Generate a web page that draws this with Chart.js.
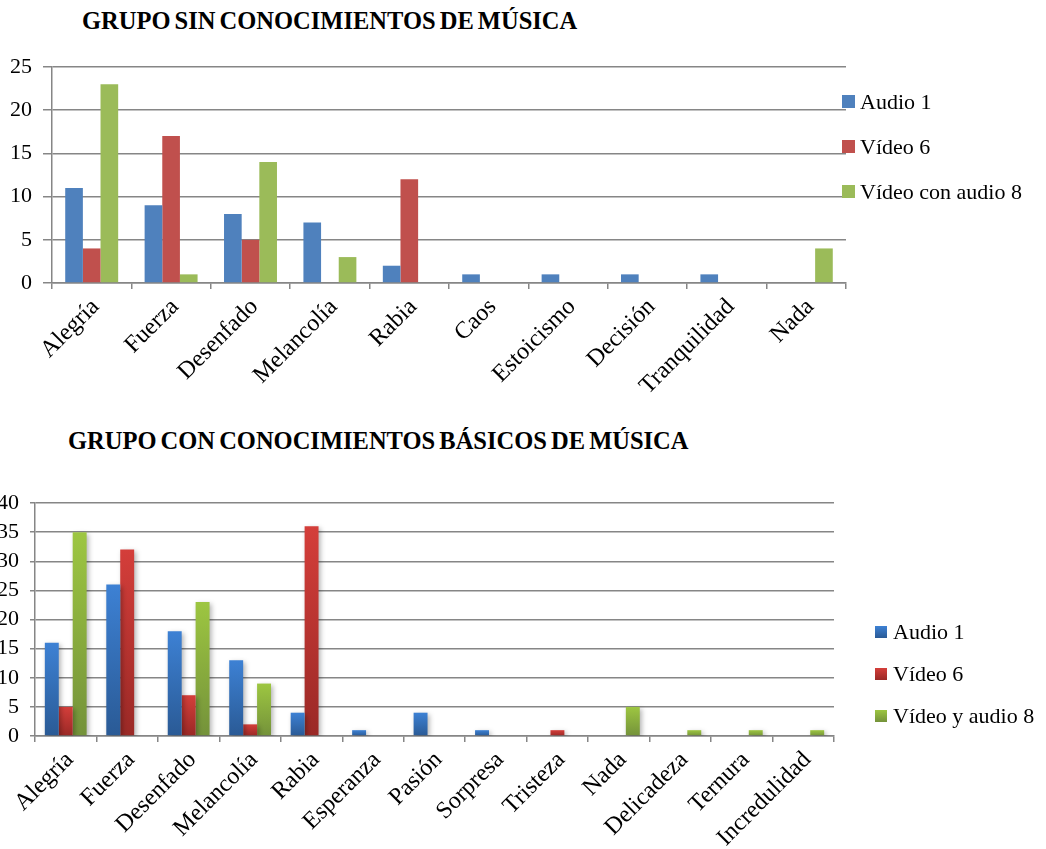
<!DOCTYPE html>
<html>
<head>
<meta charset="utf-8">
<script src="https://cdn.jsdelivr.net/npm/chart.js@4.4.1/dist/chart.umd.min.js"></script>
<style>
  html, body { margin: 0; padding: 0; background: #fff; }
  body { width: 1046px; height: 849px; position: relative; overflow: hidden; font-family: "Liberation Serif", "Times New Roman", "DejaVu Serif", serif; }
  canvas { position: absolute; }
  #c1 { left: 0; top: 0; }
  #c2 { left: -10px; top: 420px; }
  .title { position: absolute; font-weight: bold; font-size: 24.5px; white-space: nowrap; word-spacing: -2px; color: #000; }
  #t1 { left: 82px; top: 7px; }
  #t2 { left: 68px; top: 427px; }
  .legend { position: absolute; font-size: 22px; color: #000; }
  .legend div { height: 45px; line-height: 22px; white-space: nowrap; }
  .legend span { display: inline-block; width: 13px; height: 13px; margin-right: 5px; vertical-align: 1px; }
  #l1 { left: 842px; top: 91px; }
  #l2 { left: 875px; top: 621px; }
  #l2 div { height: 42px; }
  #l2 span { width: 12px; height: 12px; margin-right: 6px; }
</style>
</head>
<body>
<div class="title" id="t1">GRUPO SIN CONOCIMIENTOS DE MÚSICA</div>
<div class="title" id="t2">GRUPO CON CONOCIMIENTOS BÁSICOS DE MÚSICA</div>
<canvas id="c1" width="1046" height="420"></canvas>
<canvas id="c2" width="1056" height="429"></canvas>
<div class="legend" id="l1"></div>
<div class="legend" id="l2"></div>
<script>
// chart 1: grupo sin conocimientos
const cats1 = ['Alegría', 'Fuerza', 'Desenfado', 'Melancolía', 'Rabia', 'Caos', 'Estoicismo', 'Decisión', 'Tranquilidad', 'Nada'];
const audio1A = [11, 9, 8, 7, 2, 1, 1, 1, 1, 0];
const video6A = [4, 17, 5, 0, 12, 0, 0, 0, 0, 0];
const videoAudio8A = [23, 1, 14, 3, 0, 0, 0, 0, 0, 4];
const labels1 = ['Audio 1', 'Vídeo 6', 'Vídeo con audio 8'];
const yTicks1 = [0, 5, 10, 15, 20, 25];

// chart 2: grupo con conocimientos basicos
const cats2 = ['Alegría', 'Fuerza', 'Desenfado', 'Melancolía', 'Rabia', 'Esperanza', 'Pasión', 'Sorpresa', 'Tristeza', 'Nada', 'Delicadeza', 'Ternura', 'Incredulidad'];
const audio1B = [16, 26, 18, 13, 4, 1, 4, 1, 0, 0, 0, 0, 0];
const video6B = [5, 32, 7, 2, 36, 0, 0, 0, 1, 0, 0, 0, 0];
const videoAudio8B = [35, 0, 23, 9, 0, 0, 0, 0, 0, 5, 1, 1, 1];
const labels2 = ['Audio 1', 'Vídeo 6', 'Vídeo y audio 8'];
const yTicks2 = [0, 5, 10, 15, 20, 25, 30, 35, 40];

const flat = ['#4F81BD', '#C0504D', '#9BBB59'];
const gradTop = ['#3D81D4', '#D43E3A', '#9DC641'];
const gradBottom = ['#2A5A95', '#9A2926', '#74923A'];

const gridGray = '#868686';
const serifFamily = '"Liberation Serif", "Times New Roman", "DejaVu Serif", serif';
const xFont = { family: serifFamily, size: 24 };
const yFont = { family: serifFamily, size: 22 };

function barGradient(i) {
  return function (context) {
    const chart = context.chart;
    if (!chart.chartArea || context.type !== 'data') return gradBottom[i];
    const y = chart.scales.y;
    const y0 = y.getPixelForValue(context.raw);
    const y1 = y.getPixelForValue(0);
    if (y1 - y0 < 1) return gradTop[i];
    const g = chart.ctx.createLinearGradient(0, y0, 0, y1);
    g.addColorStop(0, gradTop[i]);
    g.addColorStop(1, gradBottom[i]);
    return g;
  };
}

const shadow = {
  id: 'shadow',
  beforeDatasetsDraw(chart) {
    const c = chart.ctx;
    c.save();
    c.shadowColor = 'rgba(0,0,0,0.3)';
    c.shadowBlur = 5;
    c.shadowOffsetX = 2;
    c.shadowOffsetY = 2;
  },
  afterDatasetsDraw(chart) {
    chart.ctx.restore();
  }
};

function makeOptions(yMax, yWidth, xHeight, pad, tickLen, yPad) {
  return {
    responsive: false,
    animation: false,
    events: [],
    layout: { padding: pad },
    plugins: { legend: { display: false }, tooltip: { enabled: false } },
    scales: {
      x: {
        afterFit(scale) { scale.height = xHeight; },
        grid: { drawOnChartArea: false, drawTicks: true, tickLength: 6, color: gridGray, lineWidth: 1.5 },
        border: { color: gridGray, width: 1.5 },
        ticks: { color: '#000', font: xFont, minRotation: 45, maxRotation: 45, autoSkip: false, padding: 4, labelOffset: 4 }
      },
      y: {
        min: 0,
        max: yMax,
        afterFit(scale) { scale.width = yWidth; },
        grid: { color: gridGray, lineWidth: 1.5, tickLength: tickLen },
        border: { color: gridGray, width: 1.5 },
        ticks: { color: '#000', font: yFont, stepSize: 5, padding: yPad, autoSkip: false }
      }
    }
  };
}

function buildLegend(id, labels, swatch) {
  const el = document.getElementById(id);
  labels.forEach((text, i) => {
    const row = document.createElement('div');
    const sq = document.createElement('span');
    sq.style.background = swatch(i);
    row.appendChild(sq);
    row.appendChild(document.createTextNode(text));
    el.appendChild(row);
  });
}

const series1 = [audio1A, video6A, videoAudio8A];
new Chart(document.getElementById('c1'), {
  type: 'bar',
  data: {
    labels: cats1,
    datasets: series1.map((d, i) => ({
      label: labels1[i],
      data: d,
      backgroundColor: flat[i],
      borderWidth: 0,
      categoryPercentage: 0.667,
      barPercentage: 1.0
    }))
  },
  options: makeOptions(yTicks1[yTicks1.length - 1], 52, 137, { top: 67, right: 200, bottom: 0, left: 0 }, 9, 11)
});

const series2 = [audio1B, video6B, videoAudio8B];
new Chart(document.getElementById('c2'), {
  type: 'bar',
  data: {
    labels: cats2,
    datasets: series2.map((d, i) => ({
      label: labels2[i],
      data: d,
      backgroundColor: barGradient(i),
      borderWidth: 0,
      categoryPercentage: 0.68,
      barPercentage: 1.0
    }))
  },
  options: makeOptions(yTicks2[yTicks2.length - 1], 45, 113, { top: 83, right: 212, bottom: 0, left: 0 }, 5, 11),
  plugins: [shadow]
});

buildLegend('l1', labels1, i => flat[i]);
buildLegend('l2', labels2, i => 'linear-gradient(' + gradTop[i] + ',' + gradBottom[i] + ')');
</script>
</body>
</html>
